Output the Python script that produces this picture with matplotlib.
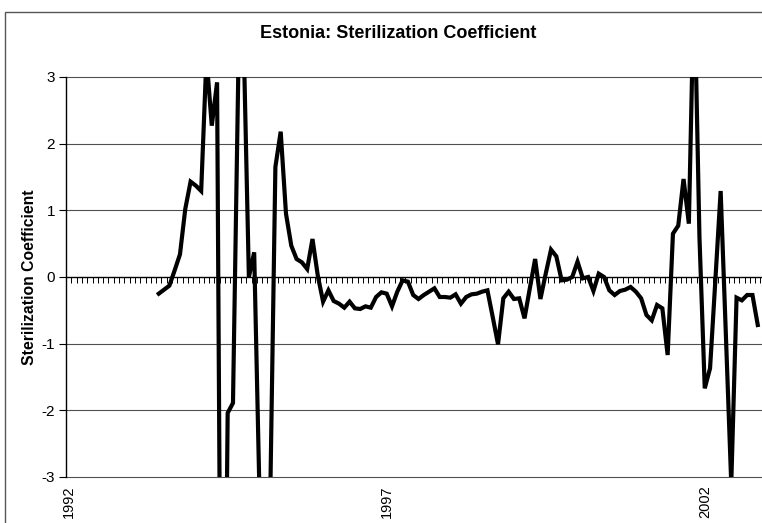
import matplotlib
matplotlib.use("Agg")
import matplotlib.pyplot as plt
import numpy as np
from matplotlib.patches import Rectangle

plt.rcParams['font.family'] = ['Liberation Sans', 'DejaVu Sans']
plt.rcParams['axes.unicode_minus'] = False

# months counted from January 1992 (0 = Jan 1992), first obs June 1993
start_month = 17
sterilization = [
    -0.25, -0.19, -0.13, 0.10, 0.34, 1.02, 1.43, 1.37, 1.29, 3.30,
    2.27, 2.92, -10.0, -2.04, -1.89, 3.05, 3.60, 0.00, 0.37, -3.25,
    -6.0, -3.46, 1.65, 2.18, 0.95, 0.47, 0.27, 0.22, 0.12, 0.57,
    0.02, -0.37, -0.20, -0.36, -0.40, -0.46, -0.37, -0.47, -0.48, -0.44,
    -0.46, -0.30, -0.23, -0.25, -0.44, -0.22, -0.05, -0.07, -0.27, -0.33,
    -0.27, -0.22, -0.17, -0.30, -0.30, -0.31, -0.26, -0.40, -0.30, -0.26,
    -0.25, -0.22, -0.20, -0.60, -1.01, -0.32, -0.22, -0.33, -0.32, -0.62,
    -0.17, 0.27, -0.33, 0.05, 0.41, 0.31, -0.05, -0.04, 0.00, 0.23,
    -0.02, 0.00, -0.21, 0.05, 0.00, -0.20, -0.27, -0.21, -0.19, -0.15,
    -0.22, -0.32, -0.57, -0.65, -0.42, -0.47, -1.17, 0.65, 0.77, 1.47,
    0.80, 4.50, 0.60, -1.67, -1.37, -0.05, 1.29, -0.90, -3.10, -0.31,
    -0.35, -0.27, -0.27, -0.72,
]
year_labels = ['1992', '1997', '2002']
year_months = [0, 60, 120]
y_ticks = [-3, -2, -1, 0, 1, 2, 3]

months = np.arange(start_month, start_month + len(sterilization))

fig = plt.figure(figsize=(7.62, 5.23), dpi=100)
ax = fig.add_axes([66 / 762, 46 / 523, 696 / 762, 400 / 523])

ax.plot(months, sterilization, color='black', lw=3.0, solid_joinstyle='miter')

ax.set_xlim(-0.5, 130.8)
ax.set_ylim(-3, 3)

# horizontal gridlines (edges drawn unclipped so they show in full)
ax.set_yticks(y_ticks)
ax.set_yticklabels([str(v) for v in y_ticks], fontsize=11)
for v in y_ticks:
    if v != 0:
        ax.axhline(v, color='#505050', lw=0.8, zorder=0, clip_on=False)
ax.tick_params(axis='y', direction='out', length=5, width=0.8, pad=3)

# category axis sits on the zero line, monthly tick marks
ax.spines['bottom'].set_position(('data', 0))
ax.spines['top'].set_visible(False)
ax.spines['right'].set_visible(False)
ax.spines['left'].set_linewidth(1.0)
ax.spines['bottom'].set_linewidth(1.0)
ax.set_xticks(np.arange(-0.5, 131, 1.0))
ax.set_xticklabels([])
ax.tick_params(axis='x', direction='out', length=4, width=0.7)

# year labels at the bottom of the plot area
sec = ax.secondary_xaxis('bottom')
sec.set_xticks(year_months)
sec.set_xticklabels(year_labels, rotation=90, fontsize=10.5)
sec.tick_params(length=0, pad=6)
sec.spines['bottom'].set_visible(False)

fig.text(398 / 762, 1 - 33 / 523, 'Estonia: Sterilization Coefficient',
         ha='center', va='center', fontsize=13, fontweight='bold')
fig.text(30 / 762, 1 - 277 / 523, 'Sterilization Coefficient', rotation=90,
         ha='center', va='center', fontsize=11.3, fontweight='bold')

# outer chart frame
fig.patches.append(Rectangle((5 / 762, -0.1), 1.2, 1 - 12 / 523 + 0.1,
                             transform=fig.transFigure, fill=False,
                             edgecolor='#555555', lw=1.0))

fig.savefig('out.png', dpi=100)
